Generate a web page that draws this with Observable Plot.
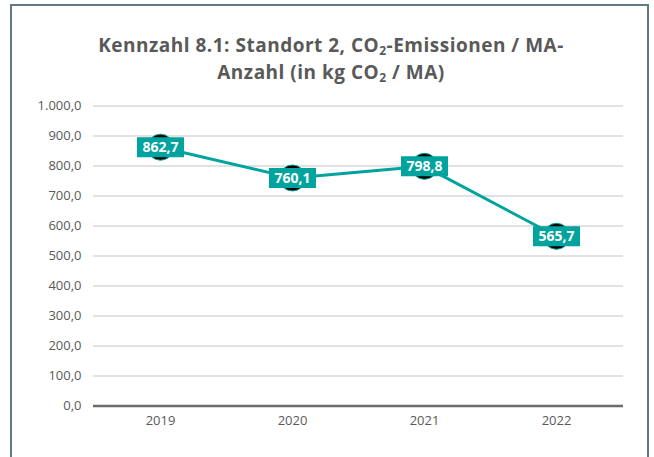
<!DOCTYPE html>
<html>
<head>
<meta charset="utf-8">
<script src="https://cdn.jsdelivr.net/npm/d3@7"></script>
<script src="https://cdn.jsdelivr.net/npm/@observablehq/plot@0.6"></script>
<style>
  html, body { margin: 0; padding: 0; background: #fff; }
  body { width: 654px; height: 457px; position: relative; overflow: hidden; font-family: "Open Sans", sans-serif; }
  #frame { position: absolute; left: 10px; top: 4px; width: 639px; height: 470px; border: 2px solid #5f7a80; border-bottom: none; box-sizing: border-box; }
  #title { position: absolute; left: 0; top: 32px; width: 662px; text-align: center; font-weight: bold; font-size: 19px; letter-spacing: 0.5px; line-height: 27px; color: #595959; }
  #title sub { font-size: 12px; vertical-align: -3px; line-height: 0; }
  #chart { position: absolute; left: 0; top: 0; }
</style>
</head>
<body>
<div id="frame"></div>
<div id="title">Kennzahl 8.1: Standort 2, CO<sub>2</sub>-Emissionen / MA-<br>Anzahl (in kg CO<sub>2</sub> / MA)</div>
<div id="chart"></div>
<script>
const years = ["2019", "2020", "2021", "2022"];
const values = [862.7, 760.1, 798.8, 565.7];
const yTicks = [0, 100, 200, 300, 400, 500, 600, 700, 800, 900, 1000];

const data = years.map((y, i) => ({year: y, value: values[i]}));
const de = d3.formatLocale({decimal: ",", thousands: ".", grouping: [3], currency: ["", " €"]});
const fmt = de.format(",.1f");
const teal = "#00a39d";
const box = { draw(ctx) { ctx.rect(-23.5, -10, 47, 20); } };

const chart = Plot.plot({
  width: 654,
  height: 457,
  marginTop: 105.5,
  marginBottom: 51.5,
  marginLeft: 93,
  marginRight: 31,
  style: { fontFamily: "Open Sans, sans-serif", fontSize: "13px", color: "#595959", background: "transparent" },
  x: { type: "band", domain: years, padding: 0, label: null, tickSize: 0, tickPadding: 10 },
  y: { domain: [0, 1000], ticks: yTicks, label: null, tickSize: 0, tickPadding: 12, tickFormat: fmt },
  marks: [
    Plot.ruleY(yTicks.filter(d => d > 0), { stroke: "#d9d9d9", strokeWidth: 1.5 }),
    Plot.ruleY([0], { stroke: "#6b6b6b", strokeWidth: 2.5 }),
    Plot.line(data, { x: "year", y: "value", stroke: teal, strokeWidth: 3 }),
    Plot.dot(data, { x: "year", y: "value", r: 13, fill: "#000", stroke: teal, strokeWidth: 1 }),
    Plot.dot(data, { x: "year", y: "value", symbol: box, r: 10, fill: teal, stroke: "none" }),
    Plot.text(data, { x: "year", y: "value", text: d => fmt(d.value), fill: "#fff", fontWeight: "bold", fontSize: 14, dy: 0.5 })
  ]
});
document.getElementById("chart").appendChild(chart);
</script>
</body>
</html>
